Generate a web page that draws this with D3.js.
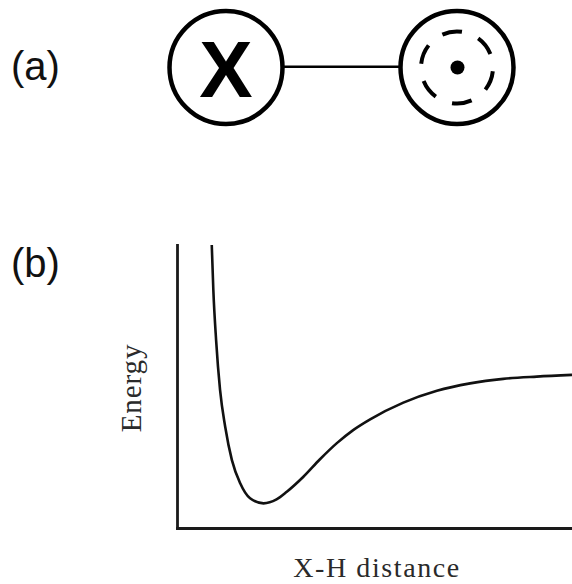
<!DOCTYPE html>
<html>
<head>
<meta charset="utf-8">
<script src="https://cdn.jsdelivr.net/npm/d3@7"></script>
<style>
  html, body { margin: 0; padding: 0; background: #fff; }
  svg { display: block; }
</style>
</head>
<body>
<svg id="chart" width="572" height="584"></svg>
<script>
// ---- data ----
const panelLabels = ["(a)", "(b)"];
const atoms = ["X", "H"];
const dashCount = 6;
const xLabel = "X-H distance";
const yLabel = "Energy";
// potential energy curve (arbitrary units 0-100)
const distance = [8.8, 9.2, 9.9, 10.9, 12.2, 13.9, 16.0, 18.5, 21.9, 25.2, 27.8, 32.0, 36.2, 40.4, 44.6, 48.9, 57.3, 65.8, 74.2, 82.6, 91.1, 100];
const energy   = [100, 84.1, 66.4, 48.8, 35.8, 24.0, 15.8, 10.5, 8.7, 10.1, 12.8, 18.1, 24.3, 29.9, 34.6, 38.4, 44.3, 48.5, 51.1, 52.7, 53.5, 54.1];

const svg = d3.select("#chart");

// ---- panel (a): X–H bond diagram ----
const atomX = d3.scalePoint().domain(atoms).range([226, 457]);
const cy = 67.5, R = 56.5;

const gA = svg.append("g");
gA.append("text")
  .attr("x", 11).attr("y", 80)
  .attr("font-family", "Liberation Sans, Arial, sans-serif")
  .attr("font-size", 40).attr("fill", "#111")
  .text(panelLabels[0]);

gA.append("line")
  .attr("x1", atomX("X") + R).attr("x2", atomX("H") - R)
  .attr("y1", 66.7).attr("y2", 66.7)
  .attr("stroke", "#000").attr("stroke-width", 2.6);

gA.selectAll("circle.atom").data(atoms).join("circle")
  .attr("class", "atom")
  .attr("cx", d => atomX(d)).attr("cy", cy).attr("r", R)
  .attr("fill", "#fff").attr("stroke", "#000").attr("stroke-width", 4.5);

gA.append("text")
  .attr("x", atomX("X")).attr("y", 96.7)
  .attr("text-anchor", "middle")
  .attr("font-family", "Liberation Sans, Arial, sans-serif")
  .attr("font-weight", "bold").attr("font-size", 80).attr("fill", "#000")
  .text(atoms[0]);

// H: nucleus + dashed electron cloud
const hx = atomX("H");
gA.append("circle").attr("cx", hx + 0.5).attr("cy", cy).attr("r", 7).attr("fill", "#000");
const dashArc = d3.arc().innerRadius(34).outerRadius(38);
const period = 2 * Math.PI / dashCount;
const half = 0.278;
const offset = -8 * Math.PI / 180;
gA.append("g").attr("transform", `translate(${hx},${cy})`)
  .selectAll("path").data(d3.range(dashCount)).join("path")
  .attr("d", i => dashArc({startAngle: offset + i * period - half, endAngle: offset + i * period + half}))
  .attr("fill", "#000");

// ---- panel (b): energy curve ----
svg.append("text")
  .attr("x", 11).attr("y", 277)
  .attr("font-family", "Liberation Sans, Arial, sans-serif")
  .attr("font-size", 40).attr("fill", "#111")
  .text(panelLabels[1]);

const x = d3.scaleLinear().domain([0, 100]).range([177, 572]);
const y = d3.scaleLinear().domain([0, 100]).range([528, 245]);

const pts = distance.map((d, i) => [d, energy[i]]);

const axisStyle = g => {
  g.select(".domain").attr("stroke", "#1a1a1a").attr("stroke-width", 2.8).attr("stroke-linecap", "square");
  g.selectAll(".tick").remove();
};

svg.append("g").attr("transform", `translate(0,${y(0)})`)
  .call(d3.axisBottom(x).ticks(0).tickSizeOuter(0)).call(axisStyle);
svg.append("g").attr("transform", `translate(${x(0)},0)`)
  .call(d3.axisLeft(y).ticks(0).tickSizeOuter(0)).call(axisStyle);

svg.append("path")
  .datum(pts)
  .attr("fill", "none").attr("stroke", "#111").attr("stroke-width", 2.6)
  .attr("d", d3.line().x(d => x(d[0])).y(d => y(d[1])).curve(d3.curveMonotoneX));

svg.append("text")
  .attr("transform", "translate(141,388) rotate(-90)")
  .attr("text-anchor", "middle")
  .attr("font-family", "Liberation Serif, Times New Roman, serif")
  .attr("font-size", 29).attr("letter-spacing", 0.9).attr("fill", "#2a2a2a")
  .text(yLabel);

svg.append("text")
  .attr("x", 377).attr("y", 577)
  .attr("text-anchor", "middle")
  .attr("font-family", "Liberation Serif, Times New Roman, serif")
  .attr("font-size", 28).attr("letter-spacing", 1.6).attr("fill", "#2a2a2a")
  .text(xLabel);
</script>
</body>
</html>
